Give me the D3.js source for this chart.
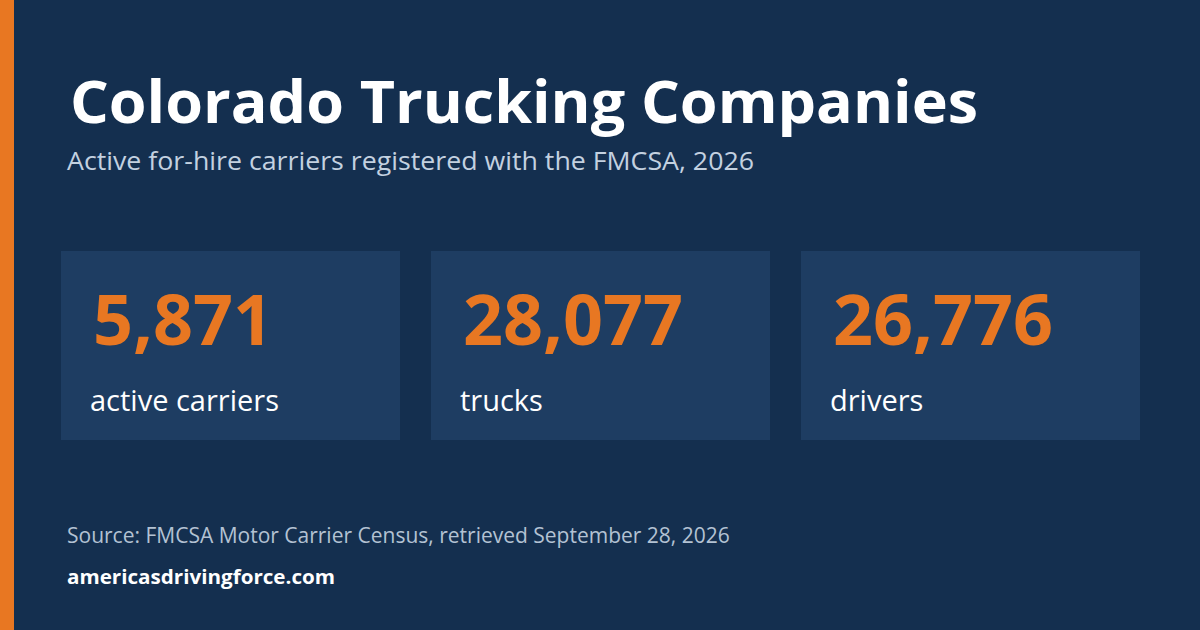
<!DOCTYPE html>
<html><head><meta charset="utf-8">
<script src="https://cdn.jsdelivr.net/npm/d3@7"></script>
<style>html,body{margin:0;padding:0;background:#142f4f;}</style>
</head><body>
<svg id="c" width="1200" height="630"></svg>
<script>
const categories = ["active carriers", "trucks", "drivers"];
const values = [5871, 28077, 26776];
const title = "Colorado Trucking Companies";
const subtitle = "Active for-hire carriers registered with the FMCSA, 2026";
const source = "Source: FMCSA Motor Carrier Census, retrieved September 28, 2026";
const site = "americasdrivingforce.com";

const svg = d3.select("#c");
const F = "'Open Sans','Noto Sans',sans-serif";
svg.append("rect").attr("width",1200).attr("height",630).attr("fill","#142f4f");
svg.append("rect").attr("width",14).attr("height",630).attr("fill","#e87722");
svg.append("text").attr("x",70).attr("y",123).text(title)
  .attr("font-family",F).attr("font-weight",700).attr("font-size",59).attr("fill","#fff")
  .attr("textLength",908).attr("lengthAdjust","spacingAndGlyphs");
svg.append("text").attr("x",67).attr("y",170).text(subtitle)
  .attr("font-family",F).attr("font-size",25).attr("fill","#c3d1e0")
  .attr("textLength",687).attr("lengthAdjust","spacingAndGlyphs");

const x = d3.scaleBand().domain(categories).range([61,1140]).paddingInner(31/370);
const g = svg.selectAll("g.card").data(categories).join("g")
  .attr("transform",d=>`translate(${x(d)},251)`);
g.append("rect").attr("width",x.bandwidth()).attr("height",189).attr("fill","#1e3d62");
g.append("text").attr("x",32).attr("y",94)
  .text((d,i)=>d3.format(",")(values[i]))
  .attr("font-family",F).attr("font-weight",700).attr("font-size",70).attr("fill","#e87722");
g.append("text").attr("x",29).attr("y",160).text(d=>d)
  .attr("font-family",F).attr("font-size",29).attr("fill","#fff");

svg.append("text").attr("x",67).attr("y",543).text(source)
  .attr("font-family",F).attr("font-size",21).attr("fill","#b3c2d3");
svg.append("text").attr("x",67).attr("y",584).text(site)
  .attr("font-family",F).attr("font-weight",700).attr("font-size",19).attr("fill","#fff")
  .attr("textLength",268).attr("lengthAdjust","spacingAndGlyphs");
</script>
</body></html>
